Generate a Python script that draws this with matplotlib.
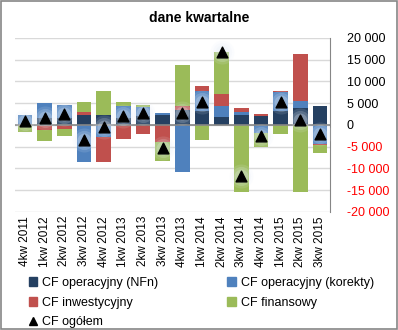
import numpy as np
import matplotlib.pyplot as plt
import matplotlib.patches as mpatches
from matplotlib.lines import Line2D
from matplotlib.ticker import FuncFormatter

plt.rcParams['font.family'] = ['Liberation Sans', 'DejaVu Sans']

quarters = ["4kw 2011", "1kw 2012", "2kw 2012", "3kw 2012", "4kw 2012",
            "1kw 2013", "2kw 2013", "3kw 2013", "4kw 2013", "1kw 2014",
            "2kw 2014", "3kw 2014", "4kw 2014", "1kw 2015", "2kw 2015", "3kw 2015"]

cf_nfn = [300, 1500, 1540, 2300, 2300, 1540, 2000, 2300, 3460, 3230,
          1920, 2300, 2080, 3230, 3850, 4380]
cf_korekty = [2000, 3650, 3080, -8460, -2690, 2840, 2070, 460, -10770, 4460,
              2460, 770, -1920, 4380, 1540, -4380]
cf_inwest = [0, -1150, -920, 770, -5770, -3230, -2080, -3850, 920, 1150,
             2770, 850, 460, 230, 11000, -230]
cf_finans = [-1540, -2540, -1620, 2300, 5540, 1000, 540, -4380, 9460, -3460,
             9690, -15380, -3080, -2150, -15380, -1770]
cf_total = [800, 1500, 2460, -3460, -380, 2080, 2690, -5380, 2850, 5380,
            16690, -11690, -2540, 5380, 1150, -2080]

series = [cf_nfn, cf_korekty, cf_inwest, cf_finans]
names = ["CF operacyjny (NFn)", "CF operacyjny (korekty)", "CF inwestycyjny", "CF finansowy"]
colors = ["#254061", "#4F81BD", "#C0504D", "#9BBB59"]

fig = plt.figure(figsize=(3.98, 3.30), dpi=100)
ax = fig.add_axes([0.038, 0.358, 0.791, 0.527])

x = np.arange(len(quarters))
pos_base = np.zeros(len(x))
neg_base = np.zeros(len(x))
for vals, c in zip(series, colors):
    v = np.array(vals, dtype=float)
    p = np.where(v > 0, v, 0)
    n = np.where(v < 0, v, 0)
    ax.bar(x, p, 0.74, bottom=pos_base, color=c, zorder=2)
    ax.bar(x, n, 0.74, bottom=neg_base, color=c, zorder=2)
    pos_base += p
    neg_base += n

# soft glow behind the triangles
for s, a in [(300, 0.12), (190, 0.18), (100, 0.25)]:
    ax.scatter(x, cf_total, s=s, marker='o', color='#E6EEF8', alpha=a,
               linewidths=0, zorder=3)
ax.scatter(x, cf_total, s=60, marker='^', color='black', zorder=4)

ax.set_xlim(-0.5, len(x) - 0.5)
ax.set_ylim(-20000, 20000)
ax.set_yticks(np.arange(-20000, 20001, 5000))
ax.yaxis.tick_right()
ax.yaxis.set_major_formatter(FuncFormatter(lambda v, p: f"{int(v):,}".replace(",", " ")))
for lab, val in zip(ax.get_yticklabels(), ax.get_yticks()):
    lab.set_color('red' if val < 0 else 'black')
ax.tick_params(axis='y', length=0, labelsize=9, pad=12)
ax.set_xticks(x)
ax.set_xticklabels(quarters, rotation=90, fontsize=8.5)
ax.tick_params(axis='x', length=0, pad=3)
ax.grid(axis='y', color='#D9D9D9', linewidth=1, zorder=0)
ax.axhline(0, color='#868686', linewidth=1.2, zorder=2.5)
for side in ['top', 'left', 'bottom']:
    ax.spines[side].set_visible(False)
ax.spines['right'].set_color('#868686')

fig.text(0.5, 0.945, "dane kwartalne", ha='center', va='center',
         fontsize=10, fontweight='bold')

handles = [mpatches.Patch(color=colors[0], label=names[0]),
           mpatches.Patch(color=colors[2], label=names[2]),
           Line2D([], [], marker='^', color='black', linestyle='None',
                  markersize=6, label="CF ogółem"),
           mpatches.Patch(color=colors[1], label=names[1]),
           mpatches.Patch(color=colors[3], label=names[3])]
fig.legend(handles=handles, ncol=2, loc='upper left', bbox_to_anchor=(0.072, 0.16),
           frameon=False, fontsize=9, handlelength=0.7, handleheight=0.7,
           handletextpad=0.4, columnspacing=5.5, labelspacing=0.6,
           borderaxespad=0, borderpad=0)

fig.patches.append(mpatches.Rectangle((0.002, 0.003), 0.995, 0.994, transform=fig.transFigure,
                                      fill=False, edgecolor='#868686', linewidth=1.2))

fig.savefig("out.png", dpi=100)
